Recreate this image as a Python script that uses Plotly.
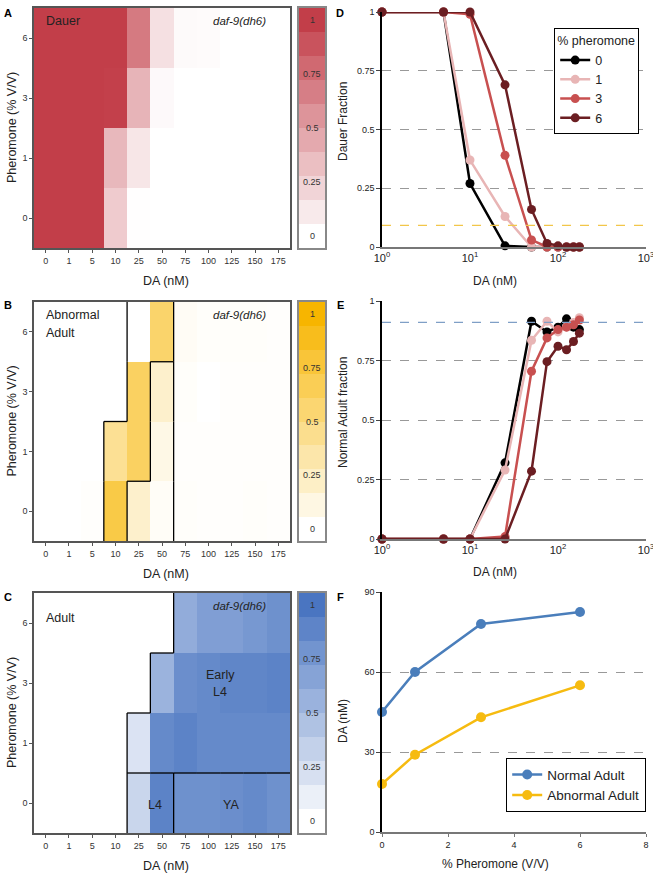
import plotly.graph_objects as go

W, H = 653, 879
FONT = "Liberation Sans, Arial, sans-serif"

# ---------------- data ----------------
DA_LABELS = ["0", "1", "5", "10", "25", "50", "75", "100", "125", "150", "175"]
PHER_LABELS = ["0", "1", "3", "6"]

# heatmap rows: pheromone 0, 1, 3, 6 (bottom -> top)
DAUER = [
    [1, 1, 1, 0.27, 0.005, 0, 0, 0, 0, 0, 0],
    [1, 1, 1, 0.37, 0.13, 0, 0, 0, 0, 0, 0],
    [1, 1, 1, 0.99, 0.39, 0.03, 0, 0, 0, 0, 0],
    [1, 1, 1, 1, 0.69, 0.16, 0.025, 0.02, 0, 0, 0],
]
ABNORMAL = [
    [0, 0, 0.01, 0.72, 0.2, 0.03, 0.02, 0.01, 0.01, 0.02, 0.01],
    [0, 0, 0, 0.42, 0.62, 0.1, 0.01, 0.01, 0.01, 0.01, 0.01],
    [0, 0, 0, 0, 0.62, 0.2, 0.02, 0, 0.01, 0.01, 0.01],
    [0, 0, 0, 0, 0, 0.58, 0.04, 0.02, 0.02, 0.02, 0.01],
]
ADULT = [
    [0, 0, 0, 0, 0.3, 0.9, 0.8, 0.8, 0.82, 0.85, 0.8],
    [0, 0, 0, 0, 0.2, 0.85, 0.9, 0.85, 0.85, 0.85, 0.85],
    [0, 0, 0, 0, 0, 0.55, 0.82, 0.85, 0.88, 0.88, 0.9],
    [0, 0, 0, 0, 0, 0, 0.6, 0.7, 0.7, 0.75, 0.8],
]
# outlined regions (cells with different ids are separated by a black line)
REGIONS_B = [
    [0, 0, 0, 1, 2, 2, 0, 0, 0, 0, 0],
    [0, 0, 0, 1, 1, 2, 0, 0, 0, 0, 0],
    [0, 0, 0, 0, 1, 2, 0, 0, 0, 0, 0],
    [0, 0, 0, 0, 1, 1, 0, 0, 0, 0, 0],
]
REGIONS_C = [
    [0, 0, 0, 0, 2, 2, 3, 3, 3, 3, 3],
    [0, 0, 0, 0, 1, 1, 1, 1, 1, 1, 1],
    [0, 0, 0, 0, 0, 1, 1, 1, 1, 1, 1],
    [0, 0, 0, 0, 0, 0, 1, 1, 1, 1, 1],
]
CBAR_TICKS = [0, 0.25, 0.5, 0.75, 1]
CBAR_TEXT = ["0", "0.25", "0.5", "0.75", "1"]

DA_LINE = [1, 5, 10, 25, 50, 75, 100, 125, 150, 175]
DAUER_0 = [1, 1, 0.27, 0.005, 0, 0, 0, 0, 0, 0]
DAUER_1 = [1, 1, 0.37, 0.13, 0, 0, 0, 0, 0, 0]
DAUER_3 = [1, 1, 0.99, 0.39, 0.03, 0, 0, 0, 0, 0]
DAUER_6 = [1, 1, 1, 0.69, 0.16, 0.015, 0.005, 0, 0, 0]
NORMAL_0 = [0, 0, 0, 0.32, 0.915, 0.87, 0.89, 0.925, 0.89, 0.88]
NORMAL_1 = [0, 0, 0, 0.29, 0.835, 0.915, 0.87, 0.89, 0.91, 0.93]
NORMAL_3 = [0, 0, 0, 0.01, 0.705, 0.845, 0.88, 0.89, 0.90, 0.92]
NORMAL_6 = [0, 0, 0, 0, 0.285, 0.745, 0.81, 0.795, 0.83, 0.865]
DAUER_REF = 0.092
NORMAL_REF = 0.91

PHER_F = [0, 1, 3, 6]
NORMAL_DA = [45, 60, 78, 82.5]
ABNORMAL_DA = [18, 29, 43, 55]

# ---------------- styles ----------------
RED = "rgb(194,62,73)"
YEL = "rgb(247,181,0)"
BLU = "rgb(74,117,193)"
LINE_COLORS = {"0": "#000000", "1": "#e8b5b5", "3": "#c85050", "6": "#6b1e22"}
F_BLUE = "#4a7ebb"
F_YEL = "#f6bb10"


def px(x):
    return x / W


def py(y):
    return 1 - y / H


fig = go.Figure()
annotations = []
shapes = []


def text_at(x, y, text, size=12, anchor="center", angle=0, color="#222"):
    annotations.append(dict(xref="paper", yref="paper", x=px(x), y=py(y), text=text,
                            textangle=angle, showarrow=False, xanchor=anchor, yanchor="middle",
                            font=dict(size=size, color=color, family=FONT)))


HEAT = [
    # (z, regions, color, top, bottom)
    (DAUER, None, RED, 8, 248),
    (ABNORMAL, REGIONS_B, YEL, 302, 541),
    (ADULT, REGIONS_C, BLU, 593, 833),
]

layout_axes = {}
for i, (z, regions, col, top, bot) in enumerate(HEAT):
    n = i + 1
    xa = "x" if n == 1 else f"x{n}"
    ya = "y" if n == 1 else f"y{n}"
    fig.add_trace(go.Heatmap(
        z=z, x=list(range(len(DA_LABELS))), y=list(range(len(PHER_LABELS))),
        colorscale=[[0, "white"], [1, col]], zmin=0, zmax=1, showscale=False,
        xaxis=xa, yaxis=ya, hoverinfo="skip"))
    ax_common = dict(showline=True, mirror=True, linecolor="#555", linewidth=1.5,
                     showgrid=False, zeroline=False, ticks="outside", ticklen=3,
                     tickcolor="#555", automargin=False,
                     tickfont=dict(size=9, color="#333", family=FONT))
    layout_axes["xaxis" if n == 1 else f"xaxis{n}"] = dict(
        domain=[px(34), px(290)], anchor=ya, range=[-0.5, 10.5],
        tickvals=list(range(len(DA_LABELS))), ticktext=DA_LABELS, **ax_common)
    layout_axes["yaxis" if n == 1 else f"yaxis{n}"] = dict(
        domain=[py(bot), py(top)], anchor=xa, range=[-0.5, 3.5],
        tickvals=list(range(len(PHER_LABELS))), ticktext=PHER_LABELS, **ax_common)

    # region outlines
    if regions is not None:
        nr, nc = len(regions), len(regions[0])
        for r in range(nr):
            for c in range(nc):
                if c + 1 < nc and regions[r][c] != regions[r][c + 1]:
                    shapes.append(dict(type="line", xref=xa, yref=ya, x0=c + 0.5, x1=c + 0.5,
                                       y0=r - 0.5, y1=r + 0.5, line=dict(color="black", width=1.3)))
                if r + 1 < nr and regions[r][c] != regions[r + 1][c]:
                    shapes.append(dict(type="line", xref=xa, yref=ya, x0=c - 0.5, x1=c + 0.5,
                                       y0=r + 0.5, y1=r + 0.5, line=dict(color="black", width=1.3)))

    # colour bar built as a 10-band strip
    cn = n + 6
    cxa, cya = f"x{cn}", f"y{cn}"
    bands = [[k / 9] for k in range(10)]
    fig.add_trace(go.Heatmap(z=bands, x=[0], y=list(range(10)),
                             colorscale=[[0, "white"], [1, col]], zmin=0, zmax=1,
                             showscale=False, xaxis=cxa, yaxis=cya, hoverinfo="skip"))
    layout_axes[f"xaxis{cn}"] = dict(domain=[px(299), px(325)], anchor=cya, range=[-0.5, 0.5],
                                     showline=True, mirror=True, linecolor="#888", linewidth=1.5,
                                     showticklabels=False, ticks="", showgrid=False, zeroline=False)
    layout_axes[f"yaxis{cn}"] = dict(domain=[py(bot), py(top)], anchor=cxa, range=[-0.5, 9.5],
                                     showline=True, mirror=True, linecolor="#888", linewidth=1.5,
                                     showticklabels=False, ticks="", showgrid=False, zeroline=False)
    for v, t in zip(CBAR_TICKS, CBAR_TEXT):
        annotations.append(dict(xref=cxa, yref=cya, x=0, y=v * 9, text=t, showarrow=False,
                                xanchor="center", yanchor="middle",
                                font=dict(size=9, color="#333", family=FONT)))

    # axis titles and strain label
    text_at(166, bot + 33, "DA (nM)", size=12.5)
    text_at(12, (top + bot) / 2, "Pheromone (% V/V)", size=12.5, angle=-90)
    text_at(239, top + 13, "<i>daf-9(dh6)</i>", size=11.5)

# labels inside heatmaps
text_at(44, 21, "Dauer", 12.5, "left")
text_at(44, 315, "Abnormal", 12.5, "left")
text_at(44, 333, "Adult", 12.5, "left")
text_at(44, 618, "Adult", 12.5, "left")
text_at(220, 675, "Early", 12.5)
text_at(220, 692, "L4", 12.5)
text_at(155, 805, "L4", 12.5)
text_at(231, 805, "YA", 12.5)

# ---------------- line panels ----------------
LINE_PANELS = [(4, 12, 247), (5, 301, 539), (6, 592, 832)]
for n, top, bot in LINE_PANELS:
    xa, ya = f"x{n}", f"y{n}"
    xcfg = dict(domain=[px(382), px(646)], anchor=ya, showline=True, linecolor="#777",
                linewidth=1.5, showgrid=False, zeroline=False, automargin=False,
                ticklabeloverflow="allow",
                tickfont=dict(size=11, color="#222", family=FONT))
    ycfg = dict(domain=[py(bot), py(top)], anchor=xa, showline=True, linecolor="black",
                linewidth=1.5, zeroline=False, showgrid=True, gridcolor="#999",
                griddash="dash", gridwidth=1, ticks="outside", ticklen=4, tickcolor="#444",
                automargin=False, tickfont=dict(size=9, color="#222", family=FONT))
    if n in (4, 5):
        xcfg.update(type="log", range=[0, 3], tickvals=[1, 10, 100, 1000],
                    ticktext=["10<sup>0</sup>", "10<sup>1</sup>", "10<sup>2</sup>", "10<sup>3</sup>"],
                    ticks="")
        ycfg.update(range=[0, 1], tickvals=CBAR_TICKS, ticktext=CBAR_TEXT)
    else:
        xcfg.update(range=[0, 8], tickvals=[0, 2, 4, 6, 8], ticks="outside", ticklen=3,
                    tickcolor="#777", tickfont=dict(size=9, color="#222", family=FONT))
        ycfg.update(range=[0, 90], tickvals=[0, 30, 60, 90])
    layout_axes[f"xaxis{n}"] = xcfg
    layout_axes[f"yaxis{n}"] = ycfg

for name, ys in [("0", DAUER_0), ("1", DAUER_1), ("3", DAUER_3), ("6", DAUER_6)]:
    fig.add_trace(go.Scatter(x=DA_LINE, y=ys, mode="lines+markers", name=name,
                             line=dict(color=LINE_COLORS[name], width=2.5),
                             marker=dict(color=LINE_COLORS[name], size=9),
                             xaxis="x4", yaxis="y4", cliponaxis=False, legend="legend"))
for name, ys in [("0", NORMAL_0), ("1", NORMAL_1), ("3", NORMAL_3), ("6", NORMAL_6)]:
    fig.add_trace(go.Scatter(x=DA_LINE, y=ys, mode="lines+markers", name=name,
                             line=dict(color=LINE_COLORS[name], width=2.5),
                             marker=dict(color=LINE_COLORS[name], size=9),
                             xaxis="x5", yaxis="y5", cliponaxis=False, showlegend=False))
fig.add_trace(go.Scatter(x=PHER_F, y=NORMAL_DA, mode="lines+markers", name="Normal Adult",
                         line=dict(color=F_BLUE, width=2.5), marker=dict(color=F_BLUE, size=10),
                         xaxis="x6", yaxis="y6", cliponaxis=False, legend="legend2"))
fig.add_trace(go.Scatter(x=PHER_F, y=ABNORMAL_DA, mode="lines+markers", name="Abnormal Adult",
                         line=dict(color=F_YEL, width=2.5), marker=dict(color=F_YEL, size=10),
                         xaxis="x6", yaxis="y6", cliponaxis=False, legend="legend2"))

# reference threshold lines
shapes.append(dict(type="line", xref="x4 domain", yref="y4", x0=0, x1=1, y0=DAUER_REF, y1=DAUER_REF,
                   line=dict(color="#f2c64a", width=1.2, dash="dash")))
shapes.append(dict(type="line", xref="x5 domain", yref="y5", x0=0, x1=1, y0=NORMAL_REF, y1=NORMAL_REF,
                   line=dict(color="#7f9fc6", width=1.2, dash="dash")))

# titles of line panels
text_at(495, 281, "DA (nM)")
text_at(495, 572, "DA (nM)")
text_at(495, 864, "% Pheromone (V/V)")
text_at(343, 122, "Dauer Fraction", angle=-90)
text_at(343, 413, "Normal Adult fraction", angle=-90)
text_at(343, 721, "DA (nM)", angle=-90)

# panel letters
for letter, x, y in [("A", 8, 13), ("B", 8, 305), ("C", 8, 597),
                     ("D", 340, 13), ("E", 340, 305), ("F", 340, 597)]:
    text_at(x, y, f"<b>{letter}</b>", 11, color="black")

fig.update_layout(
    width=W, height=H, autosize=False,
    margin=dict(l=0, r=0, t=0, b=0, autoexpand=False),
    paper_bgcolor="white", plot_bgcolor="white",
    font=dict(family=FONT, color="#222"),
    annotations=annotations, shapes=shapes,
    legend=dict(x=px(554), y=py(28), xanchor="left", yanchor="top",
                bordercolor="black", borderwidth=1.2, bgcolor="white",
                title=dict(text="% pheromone", font=dict(size=12.5, family=FONT)),
                font=dict(size=12.5, family=FONT, color="#222"), itemwidth=30),
    legend2=dict(x=px(506), y=py(758), xanchor="left", yanchor="top",
                 bordercolor="black", borderwidth=1.2, bgcolor="white",
                 font=dict(size=13.5, family=FONT, color="#222"), itemwidth=30),
    **layout_axes,
)

fig.write_html("out.html", config={"displayModeBar": False},
               post_script="document.body.style.margin='0';")
